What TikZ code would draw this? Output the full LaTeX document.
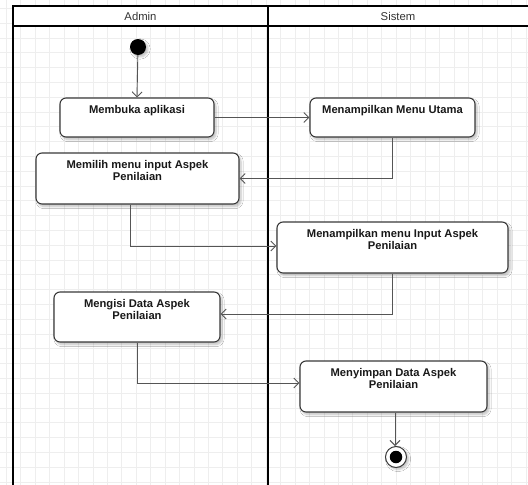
\documentclass[tikz,border=0pt]{standalone}
\usepackage{fontspec}
\setmainfont{Liberation Sans}
\usetikzlibrary{arrows.meta,shadows.blur}

\definecolor{gridline}{HTML}{EEEEEE}
\definecolor{boxline}{HTML}{3A3A3A}
\definecolor{flowline}{HTML}{555555}
\definecolor{headtext}{HTML}{333333}

\tikzset{
  lane/.style={line width=1.8pt, draw=black},
  actbox/.style={draw=boxline, line width=1.1pt, fill=white, rounded corners=6pt,
    inner sep=0pt,
    blur shadow={shadow xshift=2pt, shadow yshift=-2.5pt, shadow blur steps=6, shadow opacity=25}},
  acttext/.style={anchor=north, inner sep=0pt, align=center, font=\fontsize{11.2}{12.6}\selectfont\bfseries, text=black!90},
  flow/.style={draw=flowline, line width=0.9pt, -{Straight Barb[length=5pt,width=10pt]}},
  headlabel/.style={font=\fontsize{11.3}{13}\selectfont, text=headtext, inner sep=0pt},
  startdot/.style={circle, fill=black, minimum size=16pt, inner sep=0pt,
    blur shadow={shadow xshift=2pt, shadow yshift=-2pt, shadow blur steps=5, shadow opacity=25}},
  endring/.style={circle, draw=boxline, line width=1pt, fill=white, minimum size=21pt, inner sep=0pt,
    blur shadow={shadow xshift=2pt, shadow yshift=-2pt, shadow blur steps=5, shadow opacity=25}},
  enddot/.style={circle, fill=black, minimum size=12.5pt, inner sep=0pt}
}

\begin{document}
\begin{tikzpicture}[x=1pt, y=-1pt]
\useasboundingbox (0,0) rectangle (528,485);
\fill[white] (0,0) rectangle (528,485);

% background grid
\foreach \i in {0,...,36} {
  \draw[gridline, line width=0.8pt] ({6.26+\i*14.44},0) -- ({6.26+\i*14.44},485);
}
\foreach \j in {0,...,32} {
  \draw[gridline, line width=0.8pt] (0,{8.4+\j*14.8}) -- (528,{8.4+\j*14.8});
}

% swimlanes
\fill[white] (13,5.7) rectangle (530,26);
\draw[lane] (13,490) -- (13,5.7) -- (530,5.7);
\draw[lane] (13,26) -- (530,26);
\draw[lane] (268,5.7) -- (268,490);
\node[headlabel] (hAdmin) at (140.5,16) {Admin};
\node[headlabel] (hSistem) at (398,16) {Sistem};

% initial and final states
\node[startdot] (start) at (138,47) {};
\node[endring] (stop) at (396,457) {};
\node[enddot] (stopdot) at (stop.center) {};

% activities
\node[actbox, minimum width=154pt, minimum height=39pt] (b1) at (137,117.5) {};
\node[actbox, minimum width=165pt, minimum height=39pt] (b2) at (392.5,117.5) {};
\node[actbox, minimum width=203pt, minimum height=51pt] (b3) at (137.5,178.5) {};
\node[actbox, minimum width=231pt, minimum height=51pt] (b4) at (392.5,247.5) {};
\node[actbox, minimum width=166pt, minimum height=50pt] (b5) at (137,317) {};
\node[actbox, minimum width=187pt, minimum height=51pt] (b6) at (393.5,386.5) {};

\node[acttext] (t1) at ([yshift=-7.5pt]b1.north) {Membuka aplikasi};
\node[acttext] (t2) at ([yshift=-7.5pt]b2.north) {Menampilkan Menu Utama};
\node[acttext] (t3) at ([yshift=-7.5pt]b3.north) {Memilih menu input Aspek\\Penilaian};
\node[acttext] (t4) at ([yshift=-7.5pt]b4.north) {Menampilkan menu Input Aspek\\Penilaian};
\node[acttext] (t5) at ([yshift=-7.5pt]b5.north) {Mengisi Data Aspek\\Penilaian};
\node[acttext] (t6) at ([yshift=-7.5pt]b6.north) {Menyimpan Data Aspek\\Penilaian};

% control flow
\draw[flow] (start) -- (b1.north);
\draw[flow] (b1.east) -- (b2.west);
\draw[flow] (b2.south) |- (b3.east);
\draw[flow] ([xshift=-7.5pt]b3.south) |- ([yshift=1.5pt]b4.west);
\draw[flow] (b4.south) |- ([yshift=3pt]b5.east);
\draw[flow] (b5.south) |- ([yshift=3.5pt]b6.west);
\draw[flow] ([xshift=1.5pt]b6.south) -- ([xshift=1.5pt]b6.south |- stop.north);
\end{tikzpicture}
\end{document}
